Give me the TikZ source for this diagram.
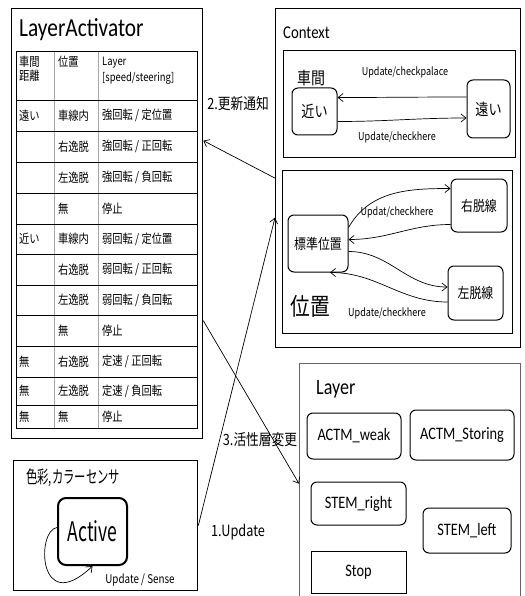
\documentclass[tikz,border=0pt]{standalone}
\usepackage{fontspec}
\newfontfamily\jpfont[FakeStretch=0.82]{Noto Sans CJK JP}
\newfontfamily\jpnarrow[FakeStretch=0.65]{Noto Sans CJK JP}
\newfontfamily\calfont[FakeStretch=0.82]{Carlito}
\usetikzlibrary{arrows.meta}
\tikzset{
  box/.style={draw, line width=1.3pt, inner sep=0pt, anchor=north west},
  inbox/.style={draw, line width=1pt, inner sep=0pt, anchor=north west},
  state/.style={draw, rounded corners=6pt, line width=1pt, inner sep=0pt,
    font=\jpfont\fontsize{14.5}{16}\selectfont},
  layernode/.style={draw, rounded corners=6pt, line width=1pt, inner sep=0pt,
    font=\calfont\fontsize{17.5}{20}\selectfont},
  cell/.style={anchor=west, inner sep=0pt, font=\jpfont\fontsize{12.5}{14}\selectfont},
  lbl/.style={inner sep=1pt, font=\jpfont\fontsize{11}{13}\selectfont},
  big/.style={inner sep=1pt, font=\jpfont\fontsize{15.5}{17}\selectfont},
  arr/.style={-{Straight Barb[length=5pt,width=8pt]}, line width=0.7pt}
}
\begin{document}
\begin{tikzpicture}[x=1pt,y=-1pt]
\useasboundingbox (0,0) rectangle (524,596);

% LayerActivator
\node[box, minimum width=191pt, minimum height=430pt] (act) at (11,8) {};
\node[anchor=west, inner sep=0pt, font=\calfont\fontsize{26}{28}\selectfont] (acttitle) at (19,30) {LayerActivator};
\draw[gray!70, line width=0.8pt] (54,51) -- (54,428) (98,51) -- (98,428);
\foreach \y in {100,131,162,193,224,254,285,315,346,377,405}
  \draw[line width=0.8pt] (16,\y) -- (197,\y);
\draw[line width=0.8pt] (16,51) rectangle (197,428);
\node[cell, anchor=north west, align=left] (h1) at (19,56) {車間\\距離};
\node[cell, anchor=north west] (h2) at (58,56) {位置};
\node[cell, anchor=north west, align=left, font=\jpfont\fontsize{11.5}{16}\selectfont] (h3) at (102,57) {Layer\\{}[speed/steering]};
\foreach \y/\a/\b/\c [count=\i] in {
  115.5/遠い/車線内/{強回転 / 定位置},
  146.5//右逸脱/{強回転 / 正回転},
  177.5//左逸脱/{強回転 / 負回転},
  208.5//無/停止,
  239/近い/車線内/{弱回転 / 定位置},
  269.5//右逸脱/{弱回転 / 正回転},
  300//左逸脱/{弱回転 / 負回転},
  330.5//無/停止,
  361.5/無/右逸脱/{定速 / 正回転},
  391/無/左逸脱/{定速 / 負回転},
  416.5/無/無/停止}{
  \node[cell] (a\i) at (19,\y) {\a};
  \node[cell] (b\i) at (58,\y) {\b};
  \node[cell] (c\i) at (102,\y) {\c};
}

% Context
\node[box, minimum width=245pt, minimum height=339pt] (ctx) at (275,8) {};
\node[anchor=west, inner sep=0pt, font=\calfont\fontsize{18}{20}\selectfont] (ctxtitle) at (283,33) {Context};
\node[inbox, minimum width=232pt, minimum height=107pt] (gap) at (283,50) {};
\node[inner sep=0pt, font=\jpfont\fontsize{17}{19}\selectfont] (gaptitle) at (311,78) {車間};
\node[state, minimum width=45pt, minimum height=47pt, font=\jpfont\fontsize{16}{18}\selectfont] (near) at (314.5,111.5) {近い};
\node[state, minimum width=43pt, minimum height=58pt, font=\jpfont\fontsize{16}{18}\selectfont] (far) at (488.5,109) {遠い};
\draw[arr] ([yshift=12pt]far.west) to[out=180,in=0] ([yshift=14pt]near.east);
\draw[arr] ([yshift=-10pt]near.east) to[out=0,in=180] ([yshift=-9pt]far.west);
\node[lbl] (l1) at (405,72) {Update/checkpalace};
\node[lbl] (l2) at (397,137) {Update/checkhere};

\node[inbox, minimum width=230pt, minimum height=163pt] (pos) at (282,170) {};
\node[state, minimum width=60pt, minimum height=57pt] (std) at (318,243.5) {標準位置};
\node[state, minimum width=56pt, minimum height=53pt] (right) at (479,205.5) {右脱線};
\node[state, minimum width=55pt, minimum height=54pt] (left) at (475.5,293) {左脱線};
\draw[arr] ([yshift=16pt]std.east) to[out=60,in=180] ([yshift=17pt]right.west);
\draw[arr] ([yshift=-19pt]right.west) to[out=180,in=0] ([yshift=4pt]std.east);
\draw[arr] ([yshift=-8pt]std.east) to[out=0,in=180] ([yshift=6pt]left.west);
\draw[arr] ([yshift=-9pt]left.west) to[out=180,in=0] ([xshift=12pt]std.south);
\node[lbl] (l3) at (397,212) {Updat/checkhere};
\node[lbl] (l4) at (387,313) {Update/checkhere};
\node[inner sep=0pt, font=\jpfont\fontsize{24}{26}\selectfont] (postitle) at (310,306) {位置};

% Layer
\node[box, draw=gray!80!black, minimum width=221pt, minimum height=240pt] (layer) at (299,363) {};
\node[anchor=west, inner sep=0pt, font=\calfont\fontsize{22}{24}\selectfont] (layertitle) at (316,389) {Layer};
\node[layernode, minimum width=94pt, minimum height=46pt] (weak) at (354,436) {ACTM\_weak};
\node[layernode, minimum width=104pt, minimum height=50pt] (storing) at (462,435) {ACTM\_Storing};
\node[layernode, minimum width=95pt, minimum height=43pt] (sright) at (358.5,503.5) {STEM\_right};
\node[layernode, minimum width=88pt, minimum height=45pt] (sleft) at (467,530.5) {STEM\_left};
\node[layernode, rounded corners=0pt, minimum width=95pt, minimum height=42pt] (stop) at (358.5,572) {Stop};

% color sensor
\node[box, minimum width=184pt, minimum height=130pt] (sensor) at (13,460) {};
\node[anchor=west, inner sep=0pt, font=\jpnarrow\fontsize{17.5}{19}\selectfont] (sentitle) at (26,478) {色彩,カラーセンサ};
\node[draw, rounded corners=8pt, line width=2pt, minimum width=69pt, minimum height=67pt,
  font=\jpnarrow\fontsize{27}{29}\selectfont] (active) at (92.5,531.5) {Active};
\draw[arr] ([yshift=4pt]active.west) .. controls (36,530) and (38,618) .. (active.south);
\node[lbl, font=\jpfont\fontsize{12}{14}\selectfont] (l5) at (140,580) {Update / Sense};

% connectors between boxes
\draw[arr] (ctx.west) -- ([yshift=83pt]act.east);
\draw[arr] ([yshift=-97pt]act.east) -- (layer.west);
\draw[arr] (sensor.east) -- ([yshift=-39.5pt]ctx.west);
\node[big] (m2) at (238,104) {2.更新通知};
\node[big] (m3) at (260,440) {3.活性層変更};
\node[big] (m1) at (238,532) {1.Update};
\end{tikzpicture}
\end{document}
